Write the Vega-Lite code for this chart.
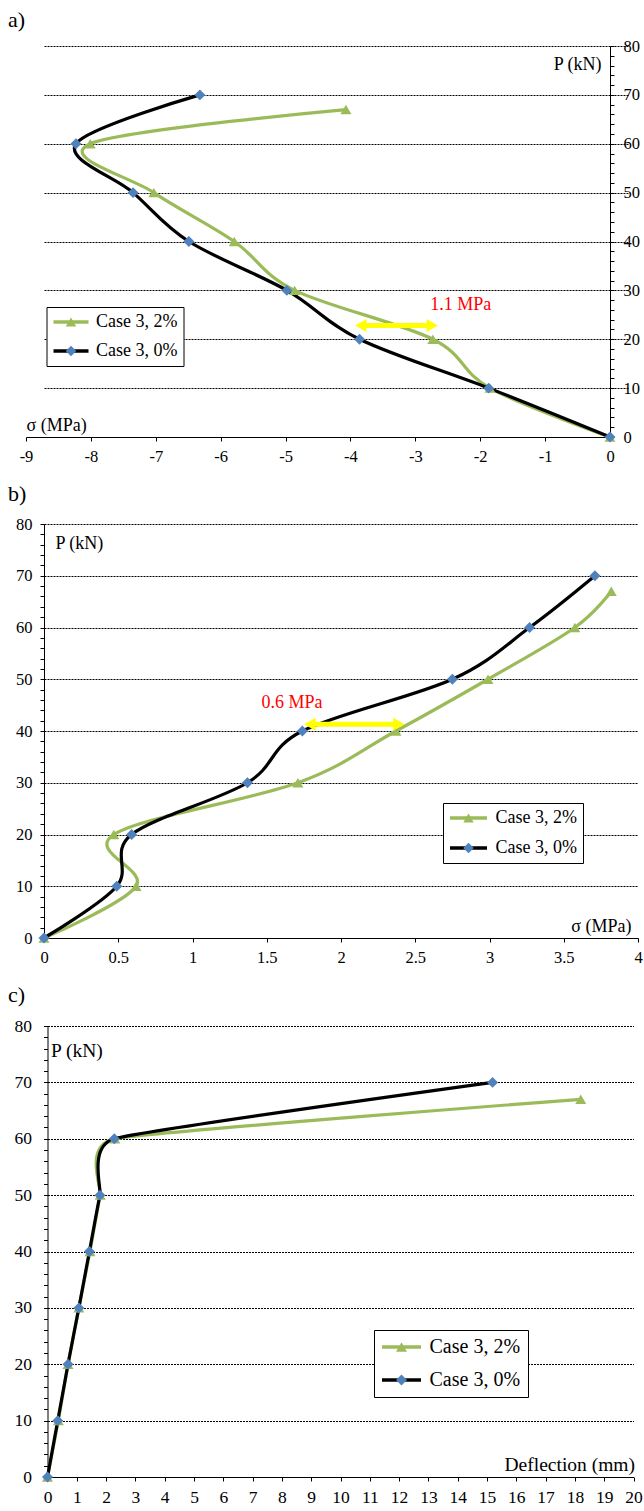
{
  "$schema": "https://vega.github.io/schema/vega-lite/v6.json",
  "background": "white",
  "padding": {"left": 8, "top": 9, "right": 0, "bottom": 0},
  "spacing": 18,
  "config": {
    "font": "Liberation Serif",
    "view": {"stroke": null},
    "title": {"font": "Liberation Serif", "fontSize": 22, "fontWeight": "normal", "color": "#000", "anchor": "start", "frame": "group"},
    "axis": {
      "domainColor": "#000", "domainWidth": 1, "tickColor": "#000", "tickSize": 4, "tickWidth": 1, "tickCount": 100,
      "labelFont": "Liberation Serif", "labelFontSize": 16.5, "labelColor": "#000", "labelPadding": 7,
      "labelOverlap": false, "labelFlush": false,
      "titleFont": "Liberation Serif", "titleFontSize": 18, "titleFontWeight": "normal", "titleColor": "#000",
      "gridColor": "#000", "gridDash": [2, 1], "gridWidth": 1, "grid": false
    },
    "legend": {"labelFont": "Liberation Serif", "labelColor": "#000"}
  },
  "datasets": {
    "stressA": [
      {"series": "Case 3, 2%", "P": 0, "sigma": 0},
      {"series": "Case 3, 2%", "P": 10, "sigma": -1.85},
      {"series": "Case 3, 2%", "P": 20, "sigma": -2.73},
      {"series": "Case 3, 2%", "P": 30, "sigma": -4.86},
      {"series": "Case 3, 2%", "P": 40, "sigma": -5.79},
      {"series": "Case 3, 2%", "P": 50, "sigma": -7.03},
      {"series": "Case 3, 2%", "P": 60, "sigma": -8.01},
      {"series": "Case 3, 2%", "P": 67, "sigma": -4.07},
      {"series": "Case 3, 0%", "P": 0, "sigma": 0},
      {"series": "Case 3, 0%", "P": 10, "sigma": -1.87},
      {"series": "Case 3, 0%", "P": 20, "sigma": -3.86},
      {"series": "Case 3, 0%", "P": 30, "sigma": -4.98},
      {"series": "Case 3, 0%", "P": 40, "sigma": -6.49},
      {"series": "Case 3, 0%", "P": 50, "sigma": -7.35},
      {"series": "Case 3, 0%", "P": 60, "sigma": -8.23},
      {"series": "Case 3, 0%", "P": 70, "sigma": -6.32}
    ],
    "stressB": [
      {"series": "Case 3, 2%", "P": 0, "sigma": 0},
      {"series": "Case 3, 2%", "P": 10, "sigma": 0.62},
      {"series": "Case 3, 2%", "P": 20, "sigma": 0.47},
      {"series": "Case 3, 2%", "P": 30, "sigma": 1.71},
      {"series": "Case 3, 2%", "P": 40, "sigma": 2.37},
      {"series": "Case 3, 2%", "P": 50, "sigma": 2.99},
      {"series": "Case 3, 2%", "P": 60, "sigma": 3.575},
      {"series": "Case 3, 2%", "P": 67, "sigma": 3.82},
      {"series": "Case 3, 0%", "P": 0, "sigma": 0},
      {"series": "Case 3, 0%", "P": 10, "sigma": 0.49},
      {"series": "Case 3, 0%", "P": 20, "sigma": 0.59},
      {"series": "Case 3, 0%", "P": 30, "sigma": 1.37},
      {"series": "Case 3, 0%", "P": 40, "sigma": 1.74},
      {"series": "Case 3, 0%", "P": 50, "sigma": 2.75},
      {"series": "Case 3, 0%", "P": 60, "sigma": 3.27},
      {"series": "Case 3, 0%", "P": 70, "sigma": 3.71}
    ],
    "deflectionC": [
      {"series": "Case 3, 2%", "P": 0, "defl": 0},
      {"series": "Case 3, 2%", "P": 10, "defl": 0.37},
      {"series": "Case 3, 2%", "P": 20, "defl": 0.7},
      {"series": "Case 3, 2%", "P": 30, "defl": 1.07},
      {"series": "Case 3, 2%", "P": 40, "defl": 1.45},
      {"series": "Case 3, 2%", "P": 50, "defl": 1.8},
      {"series": "Case 3, 2%", "P": 60, "defl": 2.3},
      {"series": "Case 3, 2%", "P": 67, "defl": 18.2},
      {"series": "Case 3, 0%", "P": 0, "defl": 0},
      {"series": "Case 3, 0%", "P": 10, "defl": 0.35},
      {"series": "Case 3, 0%", "P": 20, "defl": 0.7},
      {"series": "Case 3, 0%", "P": 30, "defl": 1.07},
      {"series": "Case 3, 0%", "P": 40, "defl": 1.43},
      {"series": "Case 3, 0%", "P": 50, "defl": 1.79},
      {"series": "Case 3, 0%", "P": 60, "defl": 2.28},
      {"series": "Case 3, 0%", "P": 70, "defl": 15.19}
    ],
    "gapA": [{"from": -3.84, "to": -2.74, "P": 22.8, "note": "1.1 MPa", "noteX": -2.3, "noteP": 27}],
    "gapB": [{"from": 1.79, "to": 2.39, "P": 41.3, "note": "0.6 MPa", "noteX": 1.67, "noteP": 45.5}]
  },
  "vconcat": [
    {
      "width": 566,
      "height": 391,
      "title": {"text": "a)", "dx": -36, "offset": 6},
      "layer": [
        {
          "data": {"name": "stressA"},
          "mark": {"type": "line", "interpolate": "cardinal", "tension": 0, "strokeWidth": 3.2},
          "encoding": {
            "x": {
              "field": "sigma", "type": "quantitative",
              "scale": {"domain": [-9, 0], "nice": false, "zero": false, "range": [-18, 566]},
              "axis": {
                "values": [-9, -8, -7, -6, -5, -4, -3, -2, -1, 0],
                "labelExpr": "replace(format(datum.value, 'd'), '−', '-')",
                "title": "σ (MPa)", "titleX": -18, "titleY": -12, "titleAlign": "left", "titleBaseline": "middle", "titleAngle": 0
              }
            },
            "y": {
              "field": "P", "type": "quantitative",
              "scale": {"domain": [0, 80], "nice": false},
              "axis": {
                "orient": "right",
                "values": [0, 2, 4, 6, 8, 10, 12, 14, 16, 18, 20, 22, 24, 26, 28, 30, 32, 34, 36, 38, 40, 42, 44, 46, 48, 50, 52, 54, 56, 58, 60, 62, 64, 66, 68, 70, 72, 74, 76, 78, 80],
                "labelExpr": "datum.value % 10 === 0 ? format(datum.value, 'd') : ''",
                "labelPadding": 9,
                "grid": true,
                "gridOpacity": {"condition": {"test": "datum.value % 10 === 0 && datum.value > 0", "value": 1}, "value": 0},
                "title": "P (kN)", "titleAngle": 0, "titleX": -9, "titleY": 18, "titleAlign": "right", "titleBaseline": "middle"
              }
            },
            "order": {"field": "P", "type": "quantitative"},
            "stroke": {
              "field": "series", "type": "nominal",
              "scale": {"domain": ["Case 3, 2%", "Case 3, 0%"], "range": ["#9BBB59", "#000000"]},
              "legend": {
                "orient": "none", "legendX": 2.5, "legendY": 261, "title": null,
                "symbolType": "M-2.917,0H2.917", "symbolSize": 144, "symbolStrokeWidth": 3.5, "symbolOffset": 9.5,
                "labelFontSize": 18, "labelOffset": 16, "padding": 6, "rowPadding": 11,
                "strokeColor": "#000", "fillColor": "#fff", "zindex": 1
              }
            }
          }
        },
        {
          "data": {"name": "stressA"},
          "mark": {"type": "point", "filled": true, "opacity": 1, "size": 120},
          "encoding": {
            "x": {"field": "sigma", "type": "quantitative"},
            "y": {"field": "P", "type": "quantitative"},
            "color": {
              "field": "series", "type": "nominal",
              "scale": {"domain": ["Case 3, 2%", "Case 3, 0%"], "range": ["#9BBB59", "#4F81BD"]},
              "legend": {
                "orient": "none", "legendX": 2.5, "legendY": 261, "title": null,
                "symbolSize": 110, "symbolStrokeWidth": 0, "symbolOpacity": 1, "symbolOffset": 9.5,
                "labelFontSize": 18, "labelOffset": 16, "labelOpacity": 0, "padding": 6, "rowPadding": 11, "zindex": 2
              }
            },
            "shape": {
              "field": "series", "type": "nominal",
              "scale": {"domain": ["Case 3, 2%", "Case 3, 0%"], "range": ["triangle-up", "diamond"]},
              "legend": {
                "orient": "none", "legendX": 2.5, "legendY": 261, "title": null,
                "symbolSize": 110, "symbolStrokeWidth": 0, "symbolOpacity": 1, "symbolOffset": 9.5,
                "labelFontSize": 18, "labelOffset": 16, "labelOpacity": 0, "padding": 6, "rowPadding": 11, "zindex": 2
              }
            }
          }
        },
        {
          "data": {"name": "gapA"},
          "mark": {"type": "rule", "color": "#FFFF00", "strokeWidth": 5},
          "encoding": {
            "x": {"field": "from", "type": "quantitative"},
            "x2": {"field": "to"},
            "y": {"field": "P", "type": "quantitative"}
          }
        },
        {
          "data": {"name": "gapA"},
          "mark": {"type": "point", "shape": "triangle-left", "filled": true, "color": "#FFFF00", "opacity": 1, "size": 170},
          "encoding": {
            "x": {"field": "from", "type": "quantitative"},
            "y": {"field": "P", "type": "quantitative"}
          }
        },
        {
          "data": {"name": "gapA"},
          "mark": {"type": "point", "shape": "triangle-right", "filled": true, "color": "#FFFF00", "opacity": 1, "size": 170},
          "encoding": {
            "x": {"field": "to", "type": "quantitative"},
            "y": {"field": "P", "type": "quantitative"}
          }
        },
        {
          "data": {"name": "gapA"},
          "mark": {"type": "text", "color": "#FF0000", "font": "Liberation Serif", "fontSize": 18},
          "encoding": {
            "x": {"field": "noteX", "type": "quantitative"},
            "y": {"field": "noteP", "type": "quantitative"},
            "text": {"field": "note"}
          }
        }
      ],
      "resolve": {"legend": {"stroke": "independent", "color": "independent", "shape": "independent"}}
    },
    {
      "width": 594,
      "height": 414,
      "title": {"text": "b)", "dx": -36, "offset": 10},
      "layer": [
        {
          "data": {"name": "stressB"},
          "mark": {"type": "line", "interpolate": "cardinal", "tension": 0, "strokeWidth": 3.2},
          "encoding": {
            "x": {
              "field": "sigma", "type": "quantitative",
              "scale": {"domain": [0, 4], "nice": false},
              "axis": {
                "values": [0, 0.5, 1, 1.5, 2, 2.5, 3, 3.5, 4],
                "labelExpr": "'' + datum.value",
                "title": "σ (MPa)", "titleX": 587, "titleY": -12, "titleAlign": "right", "titleBaseline": "middle", "titleAngle": 0
              }
            },
            "y": {
              "field": "P", "type": "quantitative",
              "scale": {"domain": [0, 80], "nice": false},
              "axis": {
                "values": [0, 2, 4, 6, 8, 10, 12, 14, 16, 18, 20, 22, 24, 26, 28, 30, 32, 34, 36, 38, 40, 42, 44, 46, 48, 50, 52, 54, 56, 58, 60, 62, 64, 66, 68, 70, 72, 74, 76, 78, 80],
                "labelExpr": "datum.value % 10 === 0 ? format(datum.value, 'd') : ''",
                "labelPadding": 8,
                "grid": true,
                "gridOpacity": {"condition": {"test": "datum.value % 10 === 0 && datum.value > 0", "value": 1}, "value": 0},
                "title": "P (kN)", "titleAngle": 0, "titleX": 11, "titleY": 19, "titleAlign": "left", "titleBaseline": "middle"
              }
            },
            "order": {"field": "P", "type": "quantitative"},
            "stroke": {
              "field": "series", "type": "nominal",
              "scale": {"domain": ["Case 3, 2%", "Case 3, 0%"], "range": ["#9BBB59", "#000000"]},
              "legend": {
                "orient": "none", "legendX": 399, "legendY": 279, "title": null,
                "symbolType": "M-3.083,0H3.083", "symbolSize": 144, "symbolStrokeWidth": 3.5, "symbolOffset": 10.5,
                "labelFontSize": 18, "labelOffset": 18, "padding": 6, "rowPadding": 12,
                "strokeColor": "#000", "fillColor": "#fff", "zindex": 1
              }
            }
          }
        },
        {
          "data": {"name": "stressB"},
          "mark": {"type": "point", "filled": true, "opacity": 1, "size": 120},
          "encoding": {
            "x": {"field": "sigma", "type": "quantitative"},
            "y": {"field": "P", "type": "quantitative"},
            "color": {
              "field": "series", "type": "nominal",
              "scale": {"domain": ["Case 3, 2%", "Case 3, 0%"], "range": ["#9BBB59", "#4F81BD"]},
              "legend": {
                "orient": "none", "legendX": 399, "legendY": 279, "title": null,
                "symbolSize": 110, "symbolStrokeWidth": 0, "symbolOpacity": 1, "symbolOffset": 10.5,
                "labelFontSize": 18, "labelOffset": 18, "labelOpacity": 0, "padding": 6, "rowPadding": 12, "zindex": 2
              }
            },
            "shape": {
              "field": "series", "type": "nominal",
              "scale": {"domain": ["Case 3, 2%", "Case 3, 0%"], "range": ["triangle-up", "diamond"]},
              "legend": {
                "orient": "none", "legendX": 399, "legendY": 279, "title": null,
                "symbolSize": 110, "symbolStrokeWidth": 0, "symbolOpacity": 1, "symbolOffset": 10.5,
                "labelFontSize": 18, "labelOffset": 18, "labelOpacity": 0, "padding": 6, "rowPadding": 12, "zindex": 2
              }
            }
          }
        },
        {
          "data": {"name": "gapB"},
          "mark": {"type": "rule", "color": "#FFFF00", "strokeWidth": 5},
          "encoding": {
            "x": {"field": "from", "type": "quantitative"},
            "x2": {"field": "to"},
            "y": {"field": "P", "type": "quantitative"}
          }
        },
        {
          "data": {"name": "gapB"},
          "mark": {"type": "point", "shape": "triangle-left", "filled": true, "color": "#FFFF00", "opacity": 1, "size": 170},
          "encoding": {
            "x": {"field": "from", "type": "quantitative"},
            "y": {"field": "P", "type": "quantitative"}
          }
        },
        {
          "data": {"name": "gapB"},
          "mark": {"type": "point", "shape": "triangle-right", "filled": true, "color": "#FFFF00", "opacity": 1, "size": 170},
          "encoding": {
            "x": {"field": "to", "type": "quantitative"},
            "y": {"field": "P", "type": "quantitative"}
          }
        },
        {
          "data": {"name": "gapB"},
          "mark": {"type": "text", "color": "#FF0000", "font": "Liberation Serif", "fontSize": 18},
          "encoding": {
            "x": {"field": "noteX", "type": "quantitative"},
            "y": {"field": "noteP", "type": "quantitative"},
            "text": {"field": "note"}
          }
        }
      ],
      "resolve": {"legend": {"stroke": "independent", "color": "independent", "shape": "independent"}}
    },
    {
      "width": 590,
      "height": 451,
      "title": {"text": "c)", "dx": -36, "offset": 10},
      "layer": [
        {
          "data": {"name": "deflectionC"},
          "mark": {"type": "line", "interpolate": "cardinal", "tension": 0.6, "strokeWidth": 3.2},
          "encoding": {
            "x": {
              "field": "defl", "type": "quantitative",
              "scale": {"domain": [0, 20], "nice": false, "range": [3.5, 589.5]},
              "axis": {
                "values": [0, 1, 2, 3, 4, 5, 6, 7, 8, 9, 10, 11, 12, 13, 14, 15, 16, 17, 18, 19, 20],
                "labelExpr": "format(datum.value, 'd')",
                "labelFontSize": 17.5,
                "title": "Deflection (mm)", "titleFontSize": 19.5, "titleX": 590.5, "titleY": -13, "titleAlign": "right", "titleBaseline": "middle", "titleAngle": 0
              }
            },
            "y": {
              "field": "P", "type": "quantitative",
              "scale": {"domain": [0, 80], "nice": false},
              "axis": {
                "offset": -3.5,
                "values": [0, 2, 4, 6, 8, 10, 12, 14, 16, 18, 20, 22, 24, 26, 28, 30, 32, 34, 36, 38, 40, 42, 44, 46, 48, 50, 52, 54, 56, 58, 60, 62, 64, 66, 68, 70, 72, 74, 76, 78, 80],
                "labelExpr": "datum.value % 10 === 0 ? format(datum.value, 'd') : ''",
                "labelFontSize": 17.5, "labelPadding": 12,
                "grid": true,
                "gridOpacity": {"condition": {"test": "datum.value % 10 === 0 && datum.value > 0", "value": 1}, "value": 0},
                "title": "P (kN)", "titleFontSize": 19.5, "titleAngle": 0, "titleX": 3, "titleY": 24, "titleAlign": "left", "titleBaseline": "middle"
              }
            },
            "order": {"field": "P", "type": "quantitative"},
            "stroke": {
              "field": "series", "type": "nominal",
              "scale": {"domain": ["Case 3, 2%", "Case 3, 0%"], "range": ["#9BBB59", "#000000"]},
              "legend": {
                "orient": "none", "legendX": 330, "legendY": 304, "title": null,
                "symbolType": "M-3.25,0H3.25", "symbolSize": 144, "symbolStrokeWidth": 3.5, "symbolOffset": 10.5,
                "labelFontSize": 20, "labelOffset": 18, "padding": 7, "rowPadding": 13,
                "strokeColor": "#000", "fillColor": "#fff", "zindex": 1
              }
            }
          }
        },
        {
          "data": {"name": "deflectionC"},
          "mark": {"type": "point", "filled": true, "opacity": 1, "size": 120},
          "encoding": {
            "x": {"field": "defl", "type": "quantitative"},
            "y": {"field": "P", "type": "quantitative"},
            "color": {
              "field": "series", "type": "nominal",
              "scale": {"domain": ["Case 3, 2%", "Case 3, 0%"], "range": ["#9BBB59", "#4F81BD"]},
              "legend": {
                "orient": "none", "legendX": 330, "legendY": 304, "title": null,
                "symbolSize": 120, "symbolStrokeWidth": 0, "symbolOpacity": 1, "symbolOffset": 10.5,
                "labelFontSize": 20, "labelOffset": 18, "labelOpacity": 0, "padding": 7, "rowPadding": 13, "zindex": 2
              }
            },
            "shape": {
              "field": "series", "type": "nominal",
              "scale": {"domain": ["Case 3, 2%", "Case 3, 0%"], "range": ["triangle-up", "diamond"]},
              "legend": {
                "orient": "none", "legendX": 330, "legendY": 304, "title": null,
                "symbolSize": 120, "symbolStrokeWidth": 0, "symbolOpacity": 1, "symbolOffset": 10.5,
                "labelFontSize": 20, "labelOffset": 18, "labelOpacity": 0, "padding": 7, "rowPadding": 13, "zindex": 2
              }
            }
          }
        }
      ],
      "resolve": {"legend": {"stroke": "independent", "color": "independent", "shape": "independent"}}
    }
  ]
}
